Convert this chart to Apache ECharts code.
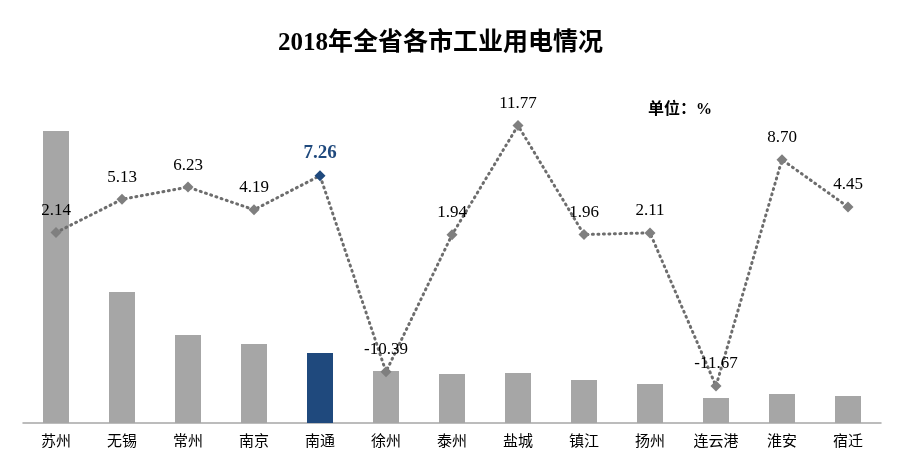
<!DOCTYPE html>
<html>
<head>
<meta charset="utf-8">
<script src="https://cdn.jsdelivr.net/npm/echarts@6/dist/echarts.min.js"></script>
<style>html,body{margin:0;padding:0;background:#fff;}#c{width:905px;height:465px;}</style>
</head>
<body>
<div id="c"></div>
<script>
var categories = ['苏州','无锡','常州','南京','南通','徐州','泰州','盐城','镇江','扬州','连云港','淮安','宿迁'];
var usage = [292, 131, 88, 79, 70, 52, 49, 50, 43, 39, 25, 29, 27];
var growth = [2.14, 5.13, 6.23, 4.19, 7.26, -10.39, 1.94, 11.77, 1.96, 2.11, -11.67, 8.70, 4.45];
var highlightCity = '南通';

var blue = '#1f497d';
var barData = usage.map(function (v, i) {
  return categories[i] === highlightCity ? { value: v, itemStyle: { color: blue } } : v;
});
var lineData = growth.map(function (v, i) {
  if (categories[i] === highlightCity) {
    return { value: v, itemStyle: { color: blue },
      label: { color: blue, fontWeight: 'bold', fontSize: 19 } };
  }
  return v;
});

var chart = echarts.init(document.getElementById('c'));
chart.setOption({
  animation: false,
  backgroundColor: '#fff',
  title: [{
    text: '2018年全省各市工业用电情况',
    left: 273, top: 26,
    textStyle: { fontFamily: 'Liberation Serif, Noto Sans CJK SC', fontSize: 25, fontWeight: 'bold', color: '#000' }
  }, {
    text: '单位：%',
    left: 643, top: 97,
    textStyle: { fontFamily: 'Liberation Serif, Noto Sans CJK SC', fontSize: 16, fontWeight: 'bold', color: '#000' }
  }],
  grid: { left: 23, right: 24, top: 123, bottom: 42 },
  xAxis: {
    type: 'category',
    data: categories,
    boundaryGap: true,
    axisTick: { show: false },
    axisLine: { lineStyle: { color: '#a6a6a6', width: 1.5 } },
    axisLabel: { color: '#000', fontSize: 15, margin: 10, fontFamily: 'Noto Sans CJK SC' }
  },
  yAxis: [{
    type: 'value', min: 0, max: 300, show: false, splitLine: { show: false }
  }, {
    type: 'value', min: -15, max: 12, show: false, splitLine: { show: false }
  }],
  series: [{
    type: 'bar',
    data: barData,
    yAxisIndex: 0,
    barWidth: 26,
    itemStyle: { color: '#a6a6a6' }
  }, {
    type: 'line',
    data: lineData,
    yAxisIndex: 1,
    symbol: 'diamond',
    symbolSize: 11,
    itemStyle: { color: '#7f7f7f' },
    lineStyle: { color: '#6d6d6d', width: 3, type: [1, 4.5], cap: 'round' },
    label: {
      show: true,
      position: 'top',
      distance: 8,
      color: '#000',
      fontSize: 17,
      fontFamily: 'Liberation Serif',
      formatter: function (p) { return Number(p.value).toFixed(2); }
    },
    z: 3
  }]
});
</script>
</body>
</html>
